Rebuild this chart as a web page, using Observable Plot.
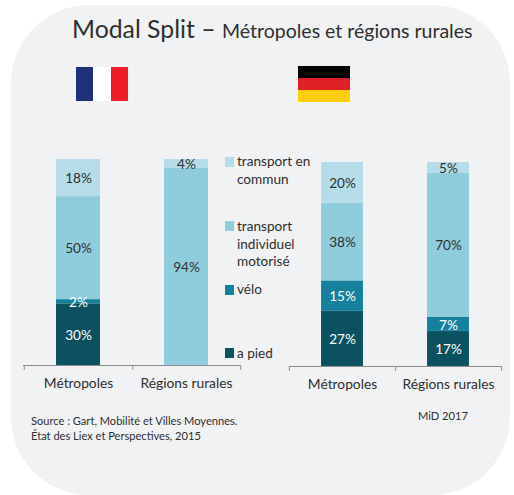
<!DOCTYPE html>
<html lang="fr">
<head>
<meta charset="utf-8">
<script src="https://cdn.jsdelivr.net/npm/d3@7"></script>
<script src="https://cdn.jsdelivr.net/npm/@observablehq/plot@0.6"></script>
<style>
html,body{margin:0;padding:0;background:#fff;}
#stage{position:relative;width:514px;height:495px;overflow:hidden;font-family:Lato,"Open Sans",sans-serif;color:#2f2f2f;}
#panel{position:absolute;left:11px;top:5px;width:499px;height:490px;background:#f1f2f4;border-radius:78px;}
.abs{position:absolute;white-space:nowrap;}
.swatch{position:absolute;width:9px;height:9.5px;}
.flag{position:absolute;width:52px;display:flex;}
svg{position:absolute;background:transparent !important;overflow:visible;}
</style>
</head>
<body>
<div id="stage">
  <div id="panel"></div>
  <div class="abs" style="left:72px;top:13px;font-size:24.8px;line-height:32px;">Modal Split –</div>
  <div class="abs" style="left:222px;top:18px;font-size:19.5px;line-height:26px;">Métropoles et régions rurales</div>
  <div class="flag" style="left:76px;top:67px;height:34px;">
    <div style="flex:1;background:#1f2f78"></div><div style="flex:1;background:#fff"></div><div style="flex:1;background:#f01c2a"></div>
  </div>
  <div class="flag" style="left:298px;top:66px;height:36px;flex-direction:column;">
    <div style="flex:1;background:#000"></div><div style="flex:1;background:#df1f26"></div><div style="flex:1;background:#ffce0b"></div>
  </div>
  <div class="abs" style="left:31px;top:413px;font-size:11.1px;line-height:15px;">Source : Gart, Mobilité et Villes Moyennes.<br>État des Liex et Perspectives, 2015</div>
  <div class="abs" style="left:418px;top:408px;font-size:11.1px;line-height:15px;">MiD 2017</div>
</div>
<script>
const modes = ["a pied", "vélo", "transport individuel motorisé", "transport en commun"];
const colors = ["#0b5160", "#15819c", "#8fcddd", "#b4dde9"];
const inkColors = ["#ffffff", "#ffffff", "#2f2f2f", "#2f2f2f"];
const places = ["Métropoles", "Régions rurales"];
const franceMetropoles = [30, 2, 50, 18];
const franceRurales = [0, 0, 94, 4];
const allemagneMetropoles = [27, 15, 38, 20];
const allemagneRurales = [17, 7, 70, 5];

function rows(a, b) {
  const out = [];
  [a, b].forEach((vals, p) => vals.forEach((v, m) => {
    if (v > 0) out.push({place: places[p], mode: modes[m], value: v});
  }));
  return out;
}

function panel({data, left, top, plotW, plotH, pad}) {
  const step = plotW / places.length;
  const stack = {x: "place", y: "value", z: "mode", order: modes, offset: "normalize"};
  const chart = Plot.plot({
    width: plotW, height: plotH + 34, marginLeft: 0, marginRight: 0, marginTop: 0, marginBottom: 34,
    style: {background: "transparent", fontFamily: "Lato, 'Open Sans', sans-serif", overflow: "visible"},
    x: {domain: places, paddingInner: pad, paddingOuter: pad / 2, align: 0.5, label: null},
    y: {domain: [0, 1], axis: null},
    color: {domain: modes, range: colors},
    marks: [
      Plot.barY(data, Plot.stackY({...stack, fill: "mode", stroke: "#fff", strokeOpacity: 0.12, strokeWidth: 0.5})),
      Plot.text(data, Plot.stackY({...stack, text: d => d.value + "%", dy: 1,
        fill: d => inkColors[modes.indexOf(d.mode)], fontSize: 13.6})),
      Plot.ruleY([0], {stroke: "#8c8c8c", strokeWidth: 1}),
      Plot.ruleX(places, {x: d => d, y1: 0, y2: -0.024, dx: step / 2, stroke: "#8c8c8c"}),
      Plot.ruleX(places.slice(0, 1), {x: d => d, y1: 0, y2: -0.024, dx: -step / 2, stroke: "#8c8c8c"}),
      Plot.axisX({anchor: "bottom", tickSize: 0, tickPadding: 13, fontSize: 13.8, label: null, fill: "#2f2f2f"})
    ]
  });
  chart.style.position = "absolute";
  chart.style.left = left + "px";
  chart.style.top = top + "px";
  document.getElementById("stage").appendChild(chart);
}

panel({data: rows(franceMetropoles, franceRurales), left: 23, top: 159, plotW: 217, plotH: 206, pad: 0.595});
panel({data: rows(allemagneMetropoles, allemagneRurales), left: 288.7, top: 162, plotW: 212.6, plotH: 204, pad: 0.6});

const legendItems = [
  {mode: 3, y: 157, lines: ["transport en", "commun"], textTop: 153},
  {mode: 2, y: 221, lines: ["transport", "individuel", "motorisé"], textTop: 218},
  {mode: 1, y: 285, lines: ["vélo"], textTop: 281},
  {mode: 0, y: 348, lines: ["a pied"], textTop: 345}
];
const stage = document.getElementById("stage");
legendItems.forEach(it => {
  const s = document.createElement("div");
  s.className = "swatch";
  s.style.cssText = `left:225px;top:${it.y}px;background:${colors[it.mode]}`;
  stage.appendChild(s);
  const t = document.createElement("div");
  t.className = "abs";
  t.style.cssText = `left:237px;top:${it.textTop}px;font-size:13.6px;line-height:17.7px;color:#2f2f2f;z-index:2`;
  t.innerHTML = it.lines.join("<br>");
  stage.appendChild(t);
});
</script>
</body>
</html>
